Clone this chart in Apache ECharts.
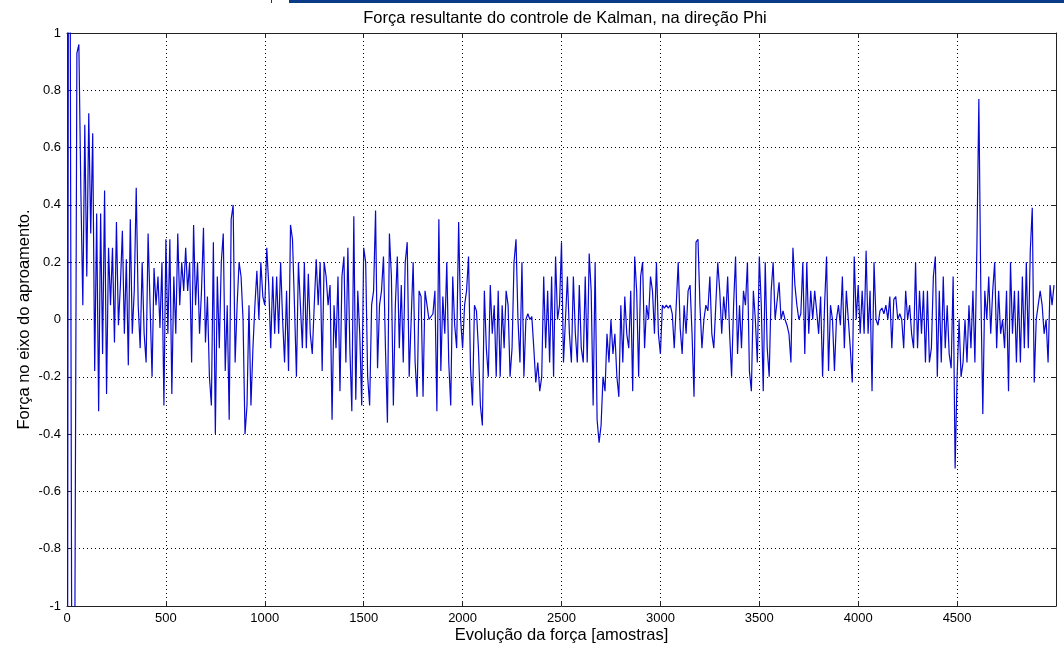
<!DOCTYPE html>
<html>
<head>
<meta charset="utf-8">
<script src="https://cdn.jsdelivr.net/npm/echarts@6/dist/echarts.min.js"></script>
<style>
  html, body { margin: 0; padding: 0; background: #fff; }
  #grafico { width: 1064px; height: 649px; }
</style>
</head>
<body>
<div id="grafico"></div>
<script>
// valores, um ponto a cada 10 amostras
const passo = 10;
const trecho0 = [-3, 3, 3, -3, -3, 0.93, 0.96, 0.45, 0.05, 0.68,
  0.15, 0.72, 0.3, 0.65, -0.18, 0.37, -0.32, 0.37, -0.12, 0.45,
  -0.26, 0.25, 0.05, 0.25, -0.08, 0.34, -0.02, 0.12, 0.31, -0.05,
  0.21, -0.16, 0.35, -0.05, 0.1, 0.46, 0.05, -0.1, 0.2, -0.05,
  -0.15, 0.3, 0.05, -0.2, 0.18, 0.05, 0.15, -0.03, 0.2, -0.3];
const trecho1 = [0.28, -0.05, 0.28, -0.26, 0.15, -0.05, 0.3, 0.05, 0.2, 0.1,
  0.25, 0.1, 0.2, -0.15, 0.33, 0.05, 0.2, -0.05, 0.1, 0.32,
  -0.08, 0.08, -0.2, -0.3, 0.27, -0.4, 0.15, -0.1, 0.2, 0.3,
  -0.18, 0.05, -0.35, 0.35, 0.4, -0.15, 0.05, 0.2, 0.15, 0.0,
  -0.4, -0.3, 0.05, -0.3, -0.1, 0.05, 0.17, 0.0, 0.2, 0.08];
const trecho2 = [0.05, 0.25, 0.12, -0.1, 0.15, -0.05, 0.15, -0.05, 0.2, 0.0,
  -0.15, 0.1, -0.18, 0.33, 0.28, 0.05, -0.2, 0.2, 0.05, -0.1,
  0.2, -0.1, 0.16, -0.05, -0.12, 0.05, 0.21, 0.05, 0.2, -0.18,
  0.2, 0.15, 0.05, 0.12, -0.35, 0.05, -0.1, 0.15, -0.25, 0.15,
  0.22, -0.15, 0.25, -0.1, -0.32, 0.36, -0.28, 0.1, -0.05, -0.3];
const trecho3 = [0.25, 0.2, -0.2, -0.3, 0.05, 0.1, 0.38, -0.17, 0.05, 0.1,
  0.22, -0.1, -0.36, 0.3, 0.15, -0.3, 0.05, 0.22, -0.1, 0.12,
  -0.15, 0.2, 0.27, -0.2, 0.0, 0.2, -0.15, -0.27, 0.1, 0.08,
  -0.27, 0.1, 0.05, 0.0, 0.0, 0.02, 0.1, -0.32, 0.35, -0.18,
  0.08, -0.05, 0.2, -0.15, -0.3, 0.15, -0.02, -0.1, 0.34, 0.0];
const trecho4 = [-0.1, 0.05, 0.1, 0.22, -0.17, -0.3, 0.05, 0.03, -0.1, -0.3,
  -0.37, 0.1, -0.1, -0.2, 0.12, -0.05, 0.05, -0.2, 0.1, -0.2,
  0.05, -0.1, 0.1, 0.05, -0.2, -0.1, 0.2, 0.28, 0.0, -0.15,
  0.2, -0.2, 0.0, 0.02, 0.0, 0.01, -0.1, -0.22, -0.15, -0.25,
  -0.2, 0.15, -0.1, 0.1, -0.15, 0.15, -0.2, 0.22, 0.0, 0.05];
const trecho5 = [0.27, -0.15, 0.0, 0.15, -0.05, -0.15, 0.15, -0.05, -0.15, 0.12,
  -0.1, -0.15, 0.15, -0.15, 0.23, 0.1, -0.3, 0.2, -0.35, -0.43,
  -0.37, -0.2, -0.25, -0.05, -0.15, 0.0, -0.12, -0.05, -0.2, -0.27,
  0.05, -0.15, 0.08, -0.05, -0.1, 0.1, -0.25, 0.22, 0.1, -0.2,
  0.15, 0.2, -0.1, 0.05, 0.0, 0.15, 0.1, -0.05, 0.2, -0.05];
const trecho6 = [-0.12, 0.05, 0.04, 0.05, 0.04, 0.05, 0.02, -0.1, 0.05, 0.2,
  -0.03, -0.12, 0.05, -0.05, 0.1, 0.12, -0.05, -0.27, 0.27, 0.28,
  0.05, -0.1, 0.0, 0.05, 0.03, 0.15, -0.05, -0.1, 0.05, 0.2,
  0.1, -0.05, 0.08, 0.0, 0.15, -0.05, -0.2, 0.05, 0.22, -0.12,
  0.05, -0.1, 0.1, 0.05, 0.2, -0.18, -0.25, 0.1, 0.0, -0.15];
const trecho7 = [0.22, 0.05, -0.25, 0.2, -0.1, -0.2, 0.1, 0.2, 0.0, 0.0,
  0.13, 0.0, 0.03, 0.0, -0.02, -0.05, -0.15, 0.25, 0.12, 0.05,
  0.0, 0.02, 0.2, -0.12, 0.2, -0.05, 0.1, 0.0, 0.1, 0.03,
  -0.05, 0.08, -0.2, 0.05, 0.22, -0.18, 0.05, 0.0, -0.18, 0.0,
  0.05, -0.02, 0.15, -0.1, 0.1, 0.0, -0.1, -0.22, 0.22, 0.0];
const trecho8 = [0.12, -0.05, 0.1, -0.05, 0.24, -0.05, 0.1, -0.25, 0.2, 0.0,
  -0.02, 0.03, 0.04, 0.02, 0.05, 0.0, 0.08, -0.1, 0.07, 0.08,
  0.0, 0.02, 0.0, -0.1, 0.1, 0.0, 0.05, -0.05, -0.1, 0.2,
  -0.1, 0.1, -0.05, 0.1, -0.15, 0.1, -0.15, -0.1, 0.15, 0.22,
  -0.2, 0.1, -0.15, 0.15, -0.1, 0.05, -0.12, -0.17, 0.15, -0.52];
const trecho9 = [-0.2, 0.0, -0.2, -0.15, 0.0, -0.15, 0.05, -0.1, 0.1, -0.15,
  0.25, 0.77, 0.1, -0.33, 0.1, 0.0, 0.15, -0.05, 0.1, 0.2,
  -0.1, 0.1, -0.05, 0.0, -0.1, 0.1, -0.25, 0.2, -0.05, 0.1,
  -0.15, 0.1, -0.15, 0.15, -0.1, 0.2, -0.1, 0.24, 0.39, -0.22,
  0.0, 0.05, 0.1, 0.05, -0.05, 0.0, -0.15, 0.12, 0.05, 0.12];

const titulo = 'Força resultante do controle de Kalman, na direção Phi';
const rotuloX = 'Evolução da força [amostras]';
const rotuloY = 'Força no eixo do aproamento.';

document.addEventListener('DOMContentLoaded', function() {
  const fonte = '"Liberation Sans", Arial, sans-serif';
  const valores = [].concat(trecho0, trecho1, trecho2, trecho3, trecho4,
    trecho5, trecho6, trecho7, trecho8, trecho9);
  const dados = valores.map(function(v, i) { return [i * passo, v]; });

  const grade = { color: '#000', type: [1, 3], width: 1 };
  const eixo = { onZero: false, lineStyle: { color: '#222', width: 1 } };
  const tique = { inside: true, length: 5, lineStyle: { color: '#222' } };

  const chart = echarts.init(document.getElementById('grafico'));
  chart.setOption({
    animation: false,
    backgroundColor: '#fff',
    title: {
      text: titulo,
      left: 560,
      top: 5,
      textAlign: 'center',
      textStyle: { fontFamily: fonte, fontSize: 16.5, fontWeight: 'normal', color: '#000' }
    },
    grid: { left: 67, top: 33, width: 989, height: 573 },
    xAxis: [{
      type: 'value', min: 0, max: 5000, interval: 500, position: 'bottom',
      axisLine: eixo, axisTick: tique,
      axisLabel: {
        color: '#000', fontFamily: fonte, fontSize: 13, margin: 6, showMaxLabel: false,
        formatter: function(v) { return String(v); }
      },
      splitLine: { show: true, lineStyle: grade },
      name: rotuloX, nameLocation: 'middle', nameGap: 21, nameMoveOverlap: false,
      nameTextStyle: { fontFamily: fonte, fontSize: 16.5, color: '#000' }
    }, {
      type: 'value', min: 0, max: 5000, interval: 500, position: 'top',
      axisLine: eixo, axisTick: tique,
      axisLabel: { show: false }, splitLine: { show: false }
    }],
    yAxis: [{
      type: 'value', min: -1, max: 1, interval: 0.2, position: 'left',
      axisLine: eixo, axisTick: tique,
      axisLabel: { color: '#000', fontFamily: fonte, fontSize: 13, margin: 6 },
      splitLine: { show: true, lineStyle: grade },
      name: rotuloY, nameLocation: 'middle', nameGap: 34, nameRotate: 90, nameMoveOverlap: false,
      nameTextStyle: { fontFamily: fonte, fontSize: 16.5, color: '#000' }
    }, {
      type: 'value', min: -1, max: 1, interval: 0.2, position: 'right',
      axisLine: eixo, axisTick: tique,
      axisLabel: { show: false }, splitLine: { show: false }
    }],
    graphic: [
      { type: 'rect', left: 289, top: 0, shape: { width: 775, height: 3 }, style: { fill: '#0b3a86' } },
      { type: 'rect', left: 271, top: 0, shape: { width: 1, height: 3 }, style: { fill: '#333' } }
    ],
    series: [{
      type: 'line',
      xAxisIndex: 0,
      yAxisIndex: 0,
      data: dados,
      symbol: 'none',
      clip: true,
      lineStyle: { color: '#0808d0', width: 1.2 }
    }]
  });

  window.addEventListener('resize', function() {
    chart.resize();
  });
});
</script>
</body>
</html>
